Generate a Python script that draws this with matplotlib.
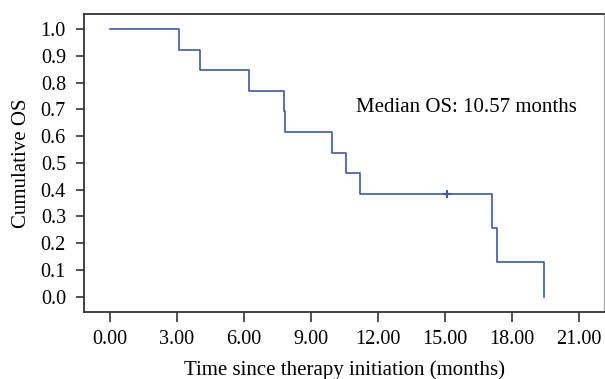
import matplotlib
matplotlib.use("Agg")
import matplotlib.pyplot as plt

plt.rcParams['font.family'] = ['Liberation Serif', 'DejaVu Serif']

# Kaplan-Meier step data
times = [0.0, 3.08, 4.02, 6.21, 7.78, 7.83, 9.93, 10.57, 11.21, 17.10, 17.33, 19.44]
surv = [1.0, 0.923, 0.846, 0.769, 0.692, 0.615, 0.538, 0.462, 0.385, 0.256, 0.128, 0.0]
censor_t = [15.1]
censor_s = [0.385]
xticks = [0, 3, 6, 9, 12, 15, 18, 21]
yticks = [0.0, 0.1, 0.2, 0.3, 0.4, 0.5, 0.6, 0.7, 0.8, 0.9, 1.0]
annotation = "Median OS: 10.57 months"

fig = plt.figure(figsize=(6.05, 3.79), dpi=100)
ax = fig.add_axes([84/605, 1 - 311.7/379, (604 - 84)/605, (311.7 - 14)/379])

color = '#3d59ab'
ax.step(times, surv, where='post', color=color, lw=1.2)
ax.plot(censor_t, censor_s, marker='+', color=color, ms=5.5, mew=1.5, ls='none')

ax.set_xlim(-1.165, 22.13)
ax.set_ylim(-0.056, 1.056)
ax.set_xticks(xticks)
ax.set_xticklabels([f"{v:.2f}" for v in xticks])
ax.set_yticks(yticks)
ax.set_yticklabels([f"{v:.1f}" for v in yticks])
ax.tick_params(axis='x', labelsize=14.5, length=7, width=1.2, color='#333333', pad=6)
ax.tick_params(axis='y', labelsize=14.5, length=6, width=1.2, color='#333333', pad=7)

for s in ['left', 'bottom', 'top']:
    ax.spines[s].set_color('#333333')
    ax.spines[s].set_linewidth(1.3)
ax.spines['right'].set_color('#aaaaaa')
ax.spines['right'].set_linewidth(1.0)

ax.set_xlabel("Time since therapy initiation (months)", fontsize=15, labelpad=8)
ax.set_ylabel("Cumulative OS", fontsize=15, labelpad=7)
ax.text(15.95, 0.706, annotation, fontsize=15, ha='center', va='center')

fig.savefig("out.png", dpi=100)
